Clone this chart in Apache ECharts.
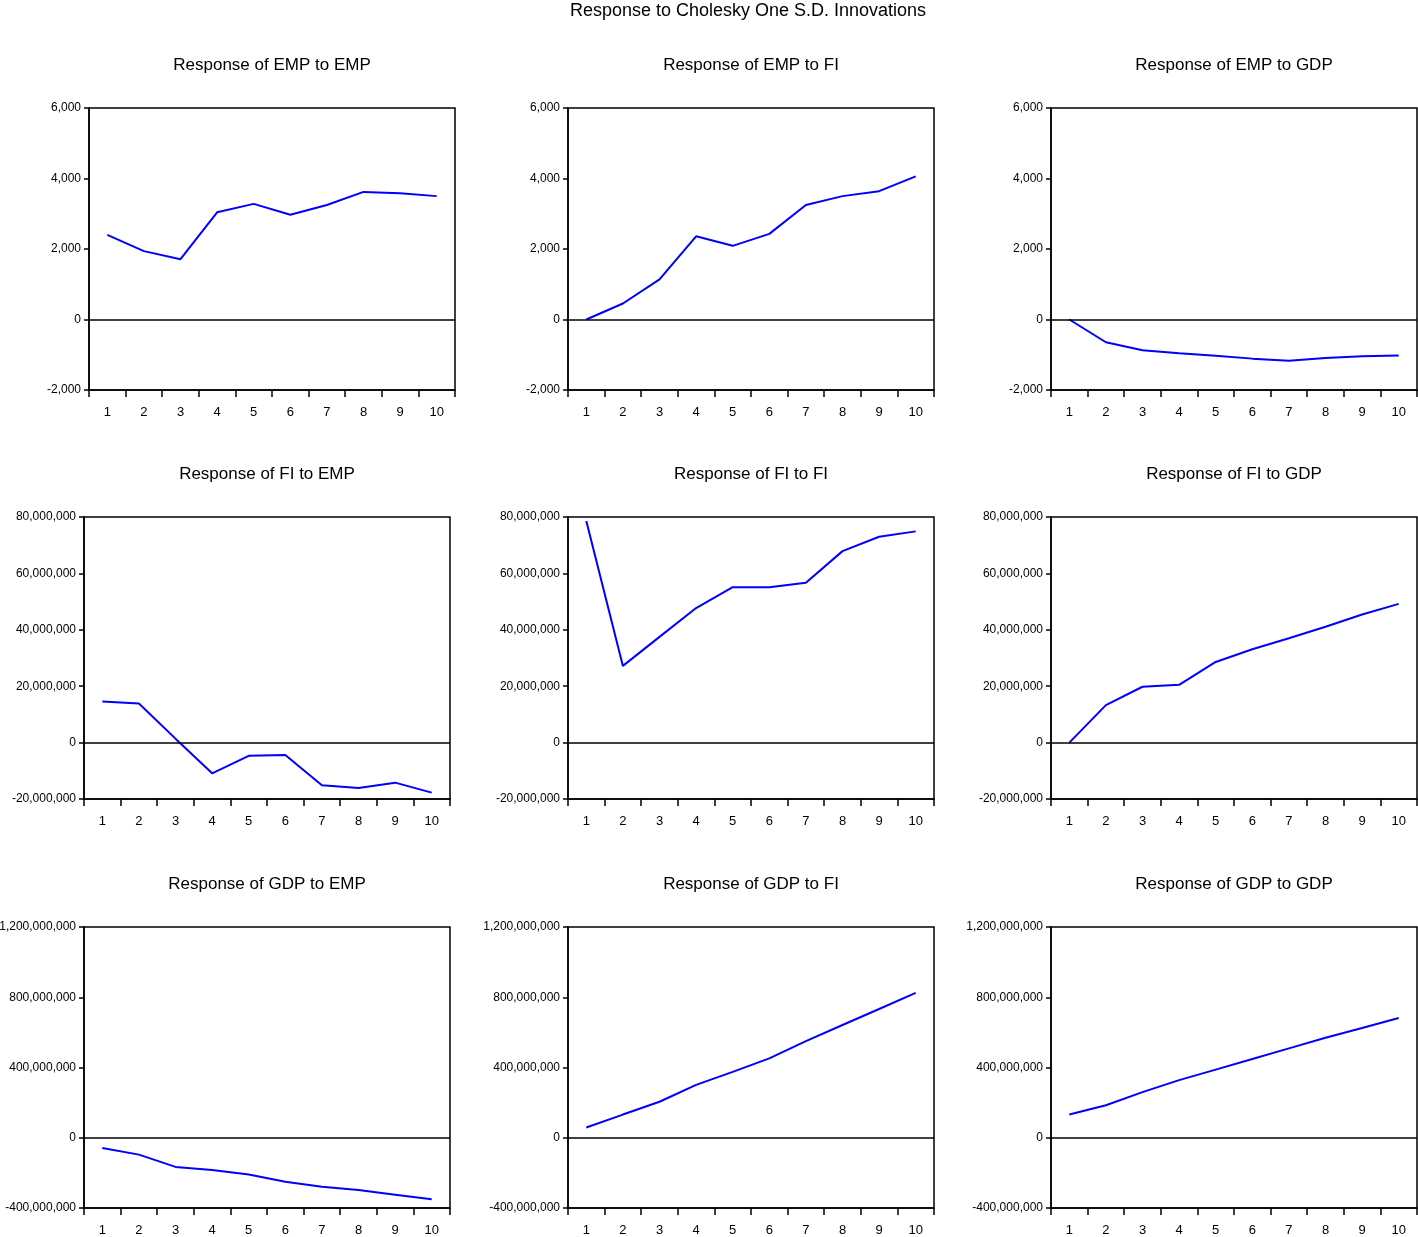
<!DOCTYPE html>
<html>
<head>
<meta charset="utf-8">
<script src="https://cdn.jsdelivr.net/npm/echarts@6/dist/echarts.min.js"></script>
<style>
html,body{margin:0;padding:0;background:#fff;}
#chart{width:1418px;height:1237px;}
</style>
</head>
<body>
<div id="chart"></div>
<script>
// ---- data ----
var periods = ['1','2','3','4','5','6','7','8','9','10'];
var mainTitle = 'Response to Cholesky One S.D. Innovations';
var panelTitles = [
  'Response of EMP to EMP','Response of EMP to FI','Response of EMP to GDP',
  'Response of FI to EMP','Response of FI to FI','Response of FI to GDP',
  'Response of GDP to EMP','Response of GDP to FI','Response of GDP to GDP'
];
var empToEmp = [2400, 1940, 1710, 3040, 3280, 2970, 3250, 3620, 3580, 3500];
var empToFi  = [0, 455, 1140, 2360, 2090, 2430, 3250, 3500, 3640, 4060];
var empToGdp = [0, -645, -870, -960, -1030, -1110, -1170, -1090, -1040, -1020];
var fiToEmp  = [14560000, 13850000, 1400000, -10900000, -4700000, -4400000, -15100000, -16100000, -14200000, -17750000];
var fiToFi   = [78600000, 27200000, 37500000, 47700000, 55100000, 55100000, 56700000, 67900000, 73000000, 74900000];
var fiToGdp  = [0, 13300000, 19800000, 20500000, 28600000, 33100000, 37000000, 41100000, 45400000, 49200000];
var gdpToEmp = [-58000000, -96000000, -166000000, -183000000, -209000000, -251000000, -279000000, -298000000, -324000000, -350000000];
var gdpToFi  = [58000000, 132000000, 205000000, 301000000, 375000000, 452000000, 550000000, 642000000, 733000000, 825000000];
var gdpToGdp = [132000000, 185000000, 260000000, 328000000, 388000000, 448000000, 509000000, 569000000, 625000000, 682000000];
var rowScales = [
  {min: -2000, max: 6000, interval: 2000},
  {min: -20000000, max: 80000000, interval: 20000000},
  {min: -400000000, max: 1200000000, interval: 400000000}
];

// ---- layout ----
var seriesData = [empToEmp, empToFi, empToGdp, fiToEmp, fiToFi, fiToGdp, gdpToEmp, gdpToFi, gdpToGdp];
var rowTops = [108, 517, 927];
var rowHeights = [282, 282, 281];
var colLefts = [[89, 568, 1051], [84, 568, 1051], [84, 568, 1051]];
var gridW = 366;
var FONT = "'Liberation Sans',Arial,sans-serif";

function fmt(v){
  var s = Math.abs(v).toString();
  var out = s.replace(/\B(?=(\d{3})+(?!\d))/g, ',');
  return (v < 0 ? '-' : '') + out;
}

var grids = [], xAxes = [], yAxes = [], series = [], titles = [];
titles.push({text: mainTitle, left: 748, top: 2, textAlign: 'center', padding: 0,
  textStyle: {fontFamily: FONT, fontSize: 18, fontWeight: 'normal', color: '#000'}});
for (var i = 0; i < 9; i++) {
  var r = Math.floor(i / 3), c = i % 3;
  var left = colLefts[r][c];
  grids.push({left: left, top: rowTops[r], width: gridW, height: rowHeights[r],
    show: true, borderColor: '#000', borderWidth: 1.5, backgroundColor: '#fff',
    containLabel: false, outerBoundsMode: 'none'});
  titles.push({text: panelTitles[i], left: left + gridW / 2, top: rowTops[r] - 51, textAlign: 'center', padding: 0,
    textStyle: {fontFamily: FONT, fontSize: 17, fontWeight: 'normal', color: '#000'}});
  xAxes.push({type: 'category', gridIndex: i, data: periods, boundaryGap: true,
    axisLine: {show: true, onZero: false, lineStyle: {color: '#000', width: 1.5}},
    axisTick: {show: true, inside: false, length: 7, lineStyle: {color: '#000', width: 1.5}},
    axisLabel: {margin: 16, fontFamily: FONT, fontSize: 13, color: '#000'},
    splitLine: {show: false}});
  var sc = rowScales[r];
  yAxes.push({type: 'value', gridIndex: i, min: sc.min, max: sc.max, interval: sc.interval,
    axisLine: {show: true, lineStyle: {color: '#000', width: 1.5}},
    axisTick: {show: true, inside: false, length: 5, lineStyle: {color: '#000', width: 1.5}},
    axisLabel: {margin: 8, fontFamily: FONT, fontSize: 12, color: '#000', formatter: fmt},
    splitLine: {show: false}});
  series.push({type: 'line', xAxisIndex: i, yAxisIndex: i, data: seriesData[i],
    symbol: 'none', lineStyle: {color: '#0000ff', width: 2}, animation: false,
    markLine: {silent: true, symbol: 'none', animation: false, label: {show: false},
      lineStyle: {color: '#000', width: 1.5, type: 'solid'}, data: [{yAxis: 0}]}});
}

var chart = echarts.init(document.getElementById('chart'), null, {renderer: 'canvas'});
chart.setOption({
  backgroundColor: '#fff',
  animation: false,
  title: titles,
  grid: grids,
  xAxis: xAxes,
  yAxis: yAxes,
  series: series
});
</script>
</body>
</html>
